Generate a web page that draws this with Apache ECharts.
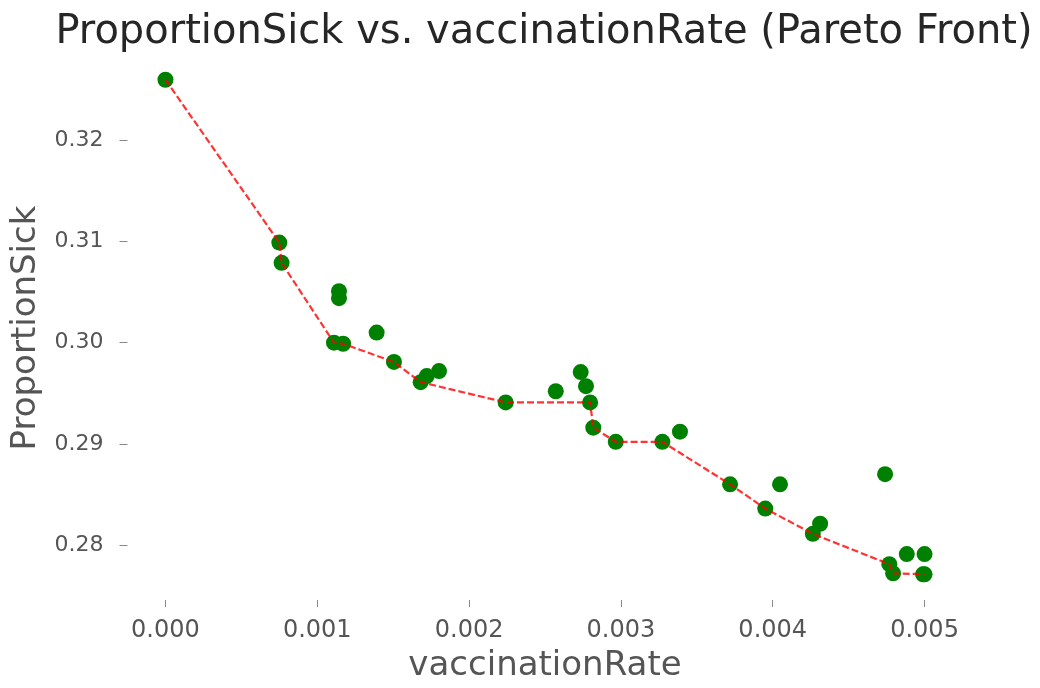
<!DOCTYPE html>
<html>
<head>
<meta charset="utf-8">
<script src="https://cdn.jsdelivr.net/npm/echarts@6/dist/echarts.min.js"></script>
<style>
html,body{margin:0;padding:0;background:#fff;}
#chart{width:1040px;height:688px;}
</style>
</head>
<body>
<div id="chart"></div>
<script>
// All evaluated solutions
const vaccinationRate = [0.0000, 0.000750, 0.000765, 0.001143, 0.001143, 0.001110, 0.001170, 0.001391, 0.001505, 0.001681, 0.001721, 0.001802, 0.002241, 0.002571, 0.002735, 0.002770, 0.002797, 0.002818, 0.002966, 0.003273, 0.003389, 0.003719, 0.004048, 0.003951, 0.004264, 0.004312, 0.004740, 0.004768, 0.004793, 0.004883, 0.005000, 0.004990, 0.005000];
const proportionSick = [0.3260, 0.3099, 0.3079, 0.3051, 0.3044, 0.3000, 0.2999, 0.3010, 0.2981, 0.2961, 0.2967, 0.2972, 0.2941, 0.2952, 0.2971, 0.2957, 0.2941, 0.2916, 0.2902, 0.2902, 0.2912, 0.2860, 0.2860, 0.2836, 0.2811, 0.2821, 0.2870, 0.2781, 0.2772, 0.2791, 0.2791, 0.2771, 0.2771];
// Pareto front
const frontRate = [0.0000, 0.000750, 0.000765, 0.001110, 0.001170, 0.001505, 0.001681, 0.002241, 0.002797, 0.002818, 0.002966, 0.003273, 0.003719, 0.003951, 0.004264, 0.004768, 0.004793, 0.005000];
const frontSick = [0.3260, 0.3099, 0.3079, 0.3000, 0.2999, 0.2981, 0.2961, 0.2941, 0.2941, 0.2916, 0.2902, 0.2902, 0.2860, 0.2836, 0.2811, 0.2781, 0.2772, 0.2771];
const xTicks = [0, 0.001, 0.002, 0.003, 0.004, 0.005];
const yTicks = [0.28, 0.29, 0.30, 0.31, 0.32];

const chart = echarts.init(document.getElementById('chart'));
const font = 'DejaVu Sans';
chart.setOption({
  backgroundColor: '#ffffff',
  animation: false,
  title: {
    text: 'ProportionSick vs. vaccinationRate (Pareto Front)',
    left: 539, top: 8, textAlign: 'center',
    textStyle: {fontFamily: font, fontSize: 40, fontWeight: 'normal', color: '#262626'}
  },
  grid: {left: 127.5, right: 77.5, top: 56, bottom: 88, containLabel: false},
  xAxis: {
    type: 'value', min: -0.00025, max: 0.00525,
    name: 'vaccinationRate', nameLocation: 'middle', nameGap: 49,
    nameTextStyle: {fontFamily: font, fontSize: 34, color: '#555555'},
    axisLine: {show: false, onZero: false},
    splitLine: {show: false},
    axisTick: {show: true, length: 7, lineStyle: {color: '#888888', width: 1}, customValues: xTicks},
    axisLabel: {fontFamily: font, fontSize: 24, color: '#555555', margin: 19, customValues: xTicks,
      formatter: v => v.toFixed(3)}
  },
  yAxis: {
    type: 'value', min: 0.27456, max: 0.32835,
    name: 'ProportionSick', nameLocation: 'middle', nameGap: 78,
    nameTextStyle: {fontFamily: font, fontSize: 34, color: '#555555'},
    axisLine: {show: false, onZero: false},
    splitLine: {show: false},
    axisTick: {show: true, length: 8, lineStyle: {color: '#888888', width: 1}, customValues: yTicks},
    axisLabel: {fontFamily: font, fontSize: 22, color: '#555555', margin: 24, customValues: yTicks,
      formatter: v => v.toFixed(2)}
  },
  series: [
    {
      type: 'scatter',
      data: vaccinationRate.map((x, i) => [x, proportionSick[i]]),
      symbolSize: 16,
      itemStyle: {color: '#008000', opacity: 1},
      z: 2
    },
    {
      type: 'line',
      data: frontRate.map((x, i) => [x, frontSick[i]]),
      showSymbol: false,
      symbol: 'none',
      lineStyle: {color: 'rgba(255,0,0,0.8)', width: 2.2, type: [7, 3]},
      z: 3
    }
  ]
});
</script>
</body>
</html>
